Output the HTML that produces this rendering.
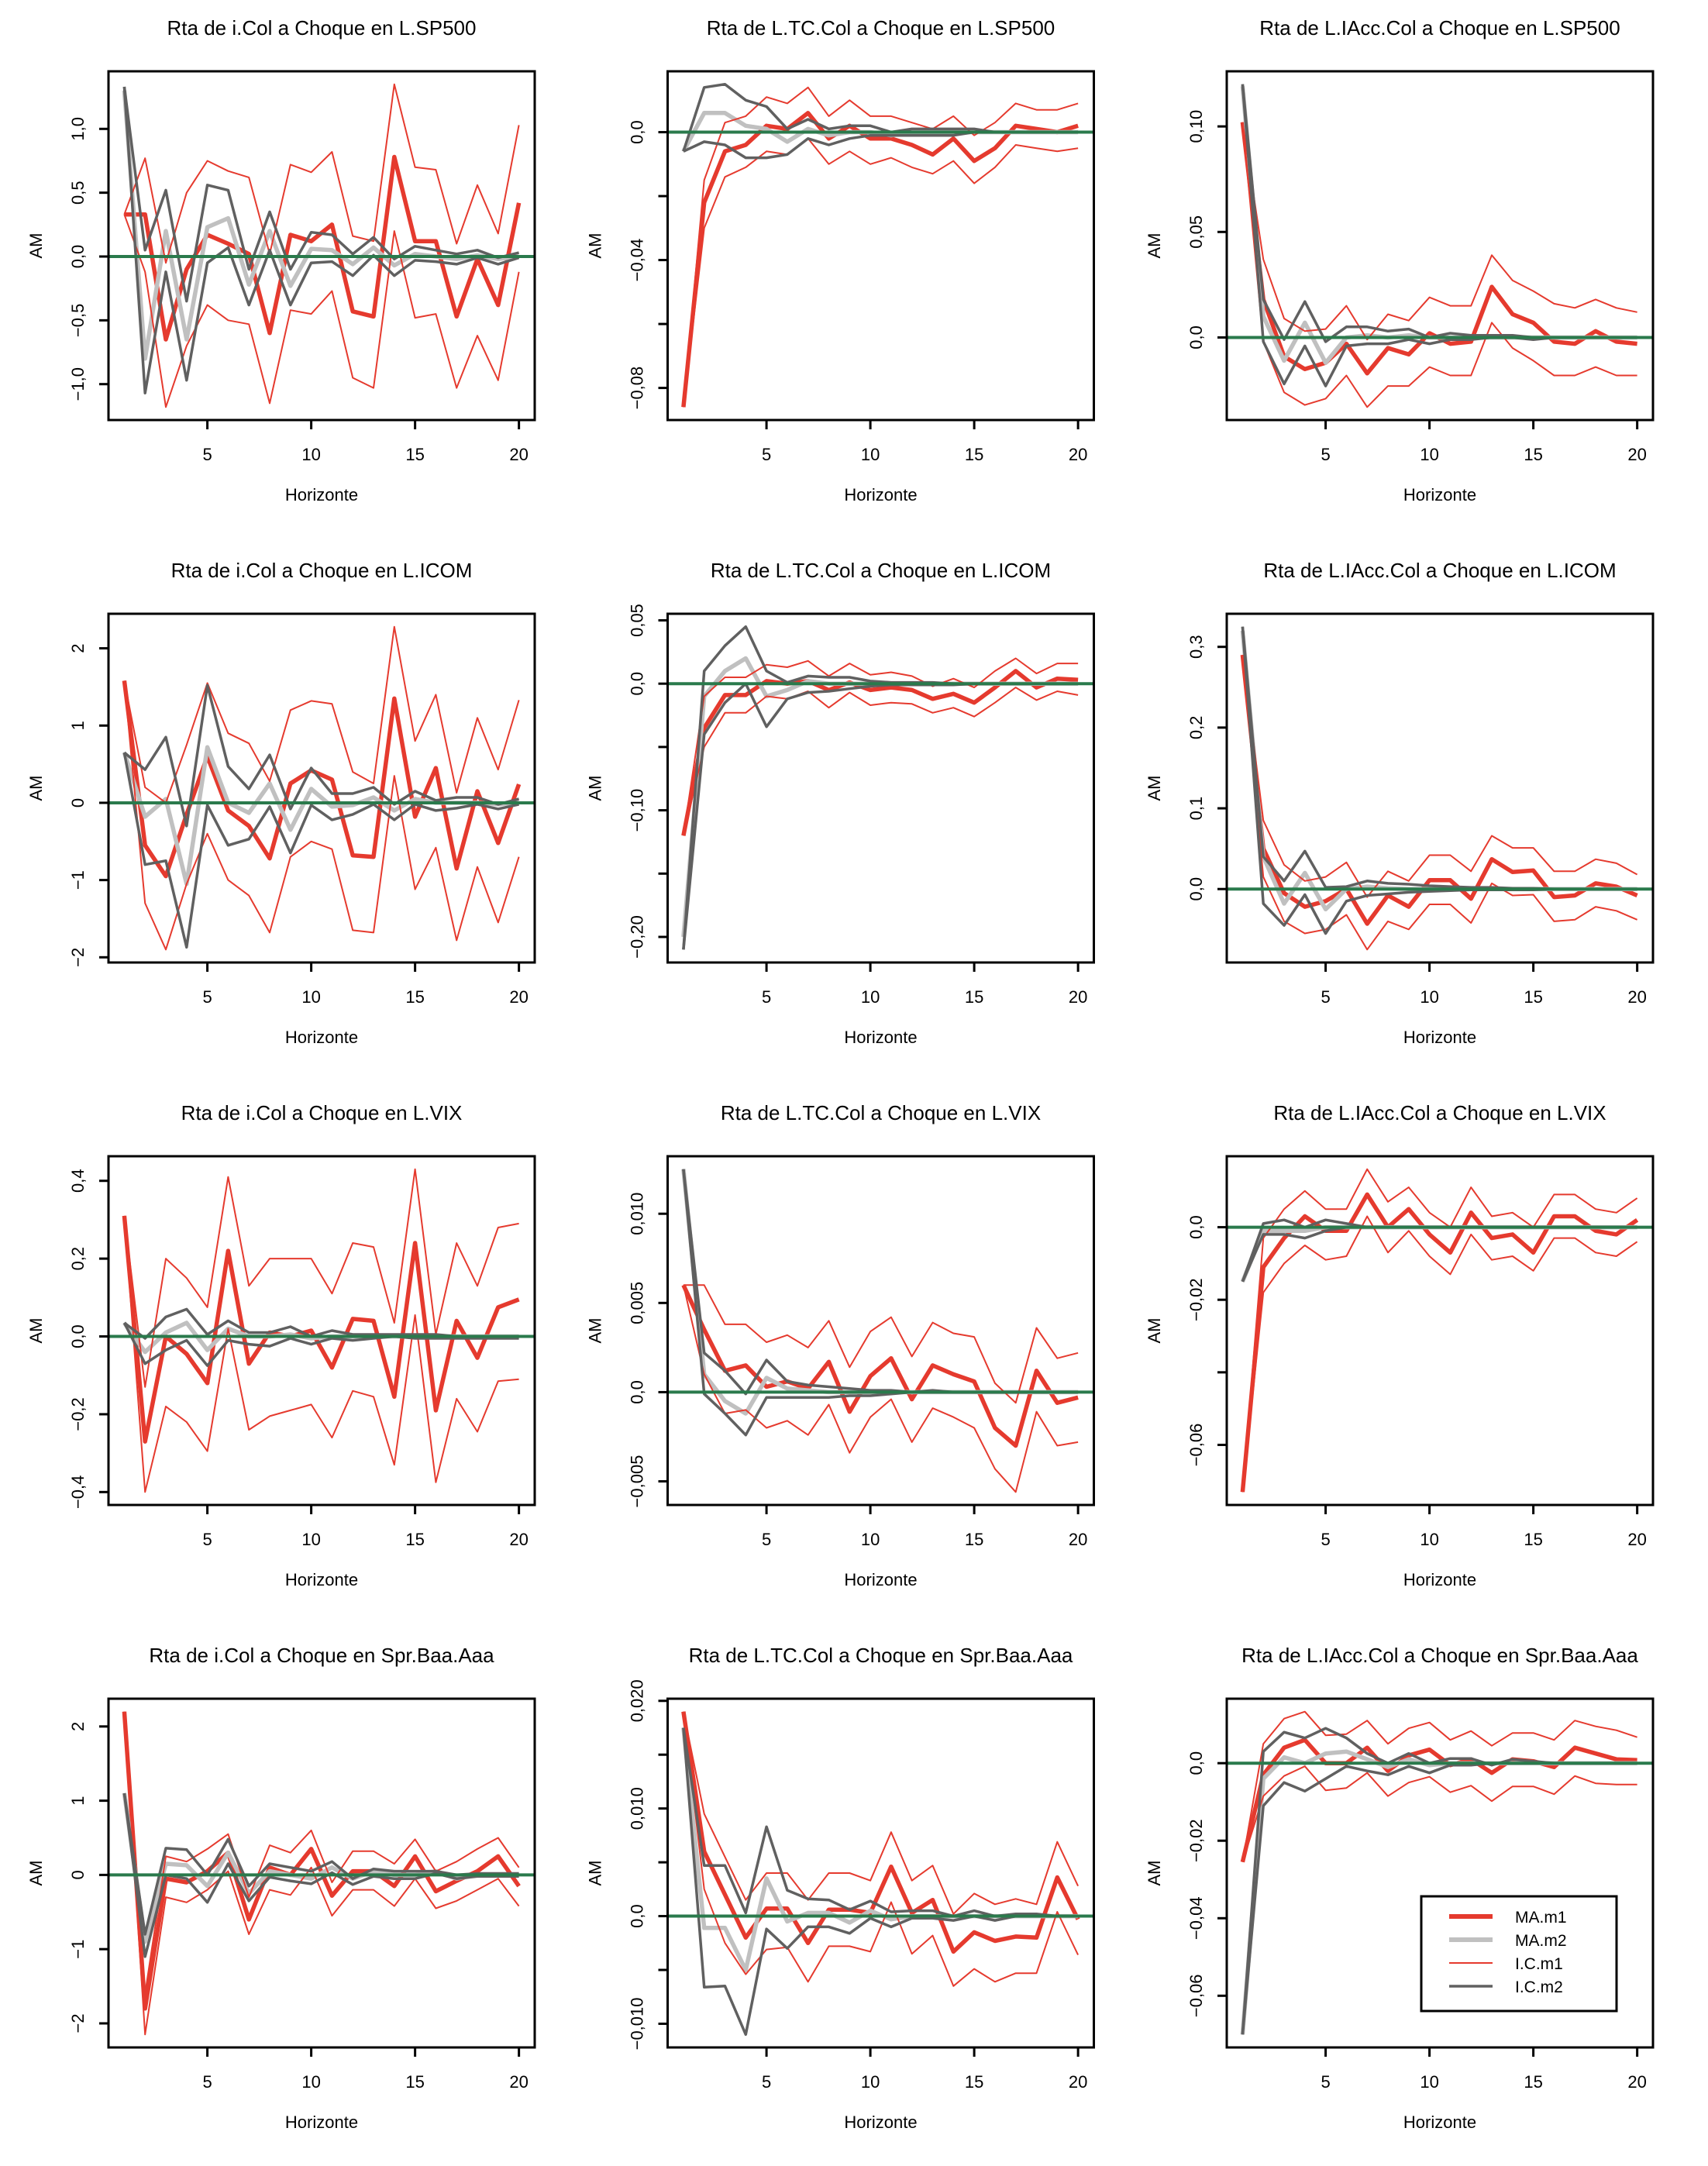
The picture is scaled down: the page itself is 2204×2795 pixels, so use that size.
<!DOCTYPE html>
<html><head><meta charset="utf-8"><style>
html,body{margin:0;padding:0;background:#fff;}
svg{display:block;}
text{font-family:"Liberation Sans",Arial,sans-serif;fill:#000;}
</style></head><body>
<svg id="fig" width="2204" height="2795" viewBox="0 0 2204 2795" xmlns="http://www.w3.org/2000/svg"></svg>
<script>
const titles=["Rta de i.Col a Choque en L.SP500","Rta de L.TC.Col a Choque en L.SP500","Rta de L.IAcc.Col a Choque en L.SP500",
"Rta de i.Col a Choque en L.ICOM","Rta de L.TC.Col a Choque en L.ICOM","Rta de L.IAcc.Col a Choque en L.ICOM",
"Rta de i.Col a Choque en L.VIX","Rta de L.TC.Col a Choque en L.VIX","Rta de L.IAcc.Col a Choque en L.VIX",
"Rta de i.Col a Choque en Spr.Baa.Aaa","Rta de L.TC.Col a Choque en Spr.Baa.Aaa","Rta de L.IAcc.Col a Choque en Spr.Baa.Aaa"];
const xTicks=[5,10,15,20];
const yTicks=[[-1,-0.5,0,0.5,1],[-0.08,-0.06,-0.04,-0.02,0],[0,0.05,0.1],
[-2,-1,0,1,2],[-0.2,-0.15,-0.1,-0.05,0,0.05],[0,0.1,0.2,0.3],
[-0.4,-0.2,0,0.2,0.4],[-0.005,0,0.005,0.01],[-0.06,-0.04,-0.02,0],
[-2,-1,0,1,2],[-0.01,-0.005,0,0.005,0.01,0.015,0.02],[-0.06,-0.04,-0.02,0]];
const yTickLabels=[["−1,0","−0,5","0,0","0,5","1,0"],["−0,08","","−0,04","","0,0"],["0,0","0,05","0,10"],
["−2","−1","0","1","2"],["−0,20","","−0,10","","0,0","0,05"],["0,0","0,1","0,2","0,3"],
["−0,4","−0,2","0,0","0,2","0,4"],["−0,005","0,0","0,005","0,010"],["−0,06","","−0,02","0,0"],
["−2","−1","0","1","2"],["−0,010","","0,0","","0,010","","0,020"],["−0,06","−0,04","−0,02","0,0"]];
const ma1=[
[0.33,0.33,-0.65,-0.1,0.17,0.1,0.02,-0.6,0.17,0.12,0.25,-0.43,-0.47,0.78,0.12,0.12,-0.47,-0.02,-0.38,0.42],
[-0.086,-0.022,-0.006,-0.004,0.002,0.001,0.006,-0.002,0.002,-0.002,-0.002,-0.004,-0.007,-0.002,-0.009,-0.005,0.002,0.001,0,0.002],
[0.102,0.018,-0.009,-0.015,-0.012,-0.003,-0.017,-0.005,-0.008,0.002,-0.003,-0.002,0.024,0.011,0.007,-0.002,-0.003,0.003,-0.002,-0.003],
[1.58,-0.55,-0.95,-0.15,0.6,-0.1,-0.3,-0.72,0.25,0.42,0.3,-0.68,-0.7,1.35,-0.18,0.45,-0.85,0.15,-0.52,0.24],
[-0.12,-0.035,-0.009,-0.009,0.002,0,0.002,-0.005,0.001,-0.005,-0.003,-0.005,-0.012,-0.008,-0.015,-0.003,0.01,-0.003,0.004,0.003],
[0.29,0.05,-0.005,-0.022,-0.015,0,-0.043,-0.008,-0.022,0.011,0.011,-0.012,0.037,0.021,0.023,-0.01,-0.008,0.007,0.003,-0.008],
[0.31,-0.27,0,-0.045,-0.12,0.22,-0.07,0.01,0,0.015,-0.08,0.045,0.04,-0.155,0.24,-0.19,0.04,-0.055,0.075,0.095],
[0.006,0.0035,0.0012,0.0015,0.0003,0.0006,0.0002,0.0017,-0.0011,0.0009,0.0019,-0.0004,0.0015,0.001,0.0006,-0.002,-0.003,0.0012,-0.0006,-0.0003],
[-0.073,-0.011,-0.003,0.003,-0.001,-0.001,0.009,0,0.005,-0.002,-0.007,0.004,-0.003,-0.002,-0.007,0.003,0.003,-0.001,-0.002,0.002],
[2.2,-1.8,-0.05,-0.1,0.05,0.3,-0.6,0.1,0,0.35,-0.28,0.05,0.05,-0.15,0.25,-0.22,-0.08,0.05,0.25,-0.15],
[0.019,0.006,0.002,-0.002,0.0007,0.0007,-0.0025,0.0006,0.0006,0.0003,0.0046,0.0003,0.0015,-0.0033,-0.0015,-0.0023,-0.0019,-0.002,0.0036,-0.0003],
[-0.0255,-0.003,0.004,0.006,0,0,0.004,-0.002,0.002,0.0035,-0.0005,0.001,-0.0025,0.001,0.0005,-0.001,0.004,0.0025,0.001,0.0008]];
const ma2=[
[1.3,-0.8,0.2,-0.65,0.23,0.3,-0.22,0.2,-0.23,0.06,0.05,-0.06,0.07,-0.07,0.02,0,-0.02,0.01,-0.02,0],
[-0.006,0.006,0.006,0.002,0.001,-0.003,0.001,-0.001,0,0,-0.001,0,0,0,0,0,0,0,0,0],
[0.119,0.01,-0.011,0.007,-0.012,0,0.001,0,0.001,0,0,0,0,0,0,0,0,0,0,0],
[0.65,-0.18,0.05,-1.05,0.72,0,-0.13,0.25,-0.35,0.18,-0.05,-0.03,0.07,-0.1,0.05,0,0,0,-0.02,0],
[-0.2,-0.01,0.01,0.02,-0.01,-0.005,0.002,0,0,0,0,0,0,0,0,0,0,0,0,0],
[0.32,0.04,-0.018,0.02,-0.025,0,0.003,0.001,0,0,0,0,0,0,0,0,0,0,0,0],
[0.035,-0.04,0.01,0.035,-0.035,0.02,0,0,0.005,-0.005,0,0,0,0,0,0,0,0,0,0],
[0.0125,0.001,-0.0005,-0.0012,0.0008,0.0002,0.0001,0,0,0,0,0,0,0,0,0,0,0,0,0],
[-0.015,-0.001,-0.001,-0.001,0,0,0,0,0,0,0,0,0,0,0,0,0,0,0,0],
[1.1,-0.9,0.15,0.13,-0.15,0.3,-0.25,0.05,0,-0.05,0.1,-0.05,0.05,0,0,0.05,-0.05,0,0,0],
[0.0175,-0.0011,-0.0011,-0.005,0.0035,-0.0005,0.0003,0.0003,-0.0006,0.0005,-0.0003,0,0,0,0,0,0,0,0,0],
[-0.07,-0.004,0.0015,0,0.0025,0.003,0.001,-0.001,0.001,-0.0005,0,0,0,0,0,0,0,0,0,0]];
const ic1Up=[
[0.33,0.77,-0.05,0.5,0.75,0.67,0.62,0.02,0.72,0.66,0.82,0.16,0.12,1.35,0.7,0.68,0.1,0.56,0.18,1.03],
[-0.086,-0.015,0.003,0.005,0.011,0.009,0.014,0.005,0.01,0.005,0.005,0.003,0.001,0.005,-0.001,0.003,0.009,0.007,0.007,0.009],
[0.102,0.037,0.009,0.003,0.004,0.015,-0.001,0.011,0.008,0.019,0.015,0.015,0.039,0.027,0.022,0.016,0.014,0.018,0.014,0.012],
[1.58,0.2,0,0.75,1.55,0.9,0.77,0.28,1.2,1.32,1.28,0.4,0.25,2.28,0.8,1.4,0.13,1.1,0.43,1.33],
[-0.12,-0.01,0.005,0.005,0.015,0.013,0.018,0.006,0.016,0.007,0.009,0.006,-0.002,0.004,-0.003,0.01,0.02,0.008,0.016,0.016],
[0.29,0.085,0.03,0.01,0.015,0.033,-0.01,0.022,0.01,0.042,0.042,0.022,0.066,0.051,0.051,0.022,0.022,0.037,0.032,0.018],
[0.31,-0.13,0.2,0.15,0.075,0.41,0.13,0.2,0.2,0.2,0.11,0.24,0.23,0.035,0.43,0.005,0.24,0.13,0.28,0.29],
[0.006,0.006,0.0038,0.0038,0.0028,0.0032,0.0025,0.004,0.0014,0.0034,0.0042,0.002,0.0039,0.0033,0.0031,0.0005,-0.0006,0.0036,0.0019,0.0022],
[-0.073,-0.003,0.005,0.01,0.005,0.005,0.016,0.007,0.011,0.004,0,0.011,0.003,0.004,0,0.009,0.009,0.005,0.004,0.008],
[2.2,-1.6,0.25,0.18,0.35,0.55,-0.3,0.4,0.3,0.6,-0.1,0.32,0.32,0.15,0.48,0.05,0.18,0.35,0.5,0.1],
[0.019,0.0095,0.0055,0.0015,0.004,0.004,0.0015,0.004,0.004,0.0033,0.0078,0.0033,0.0047,0.0002,0.0021,0.0011,0.0016,0.0011,0.0069,0.0028],
[-0.0255,0.005,0.0115,0.0133,0.0072,0.0075,0.011,0.005,0.009,0.0105,0.006,0.0083,0.0045,0.0078,0.0078,0.006,0.011,0.0095,0.0085,0.0067]];
const ic1Lo=[
[0.33,-0.12,-1.18,-0.7,-0.38,-0.5,-0.53,-1.15,-0.42,-0.45,-0.27,-0.95,-1.03,0.2,-0.48,-0.45,-1.03,-0.62,-0.97,-0.12],
[-0.086,-0.03,-0.014,-0.011,-0.006,-0.007,-0.002,-0.01,-0.006,-0.01,-0.008,-0.011,-0.013,-0.009,-0.016,-0.011,-0.004,-0.005,-0.006,-0.005],
[0.102,-0.002,-0.026,-0.032,-0.029,-0.018,-0.033,-0.023,-0.023,-0.014,-0.018,-0.018,0.007,-0.005,-0.011,-0.018,-0.018,-0.014,-0.018,-0.018],
[1.58,-1.3,-1.9,-1.05,-0.4,-1.0,-1.2,-1.68,-0.7,-0.5,-0.6,-1.65,-1.68,0.35,-1.12,-0.58,-1.78,-0.83,-1.55,-0.7],
[-0.12,-0.05,-0.023,-0.023,-0.01,-0.012,-0.006,-0.019,-0.007,-0.017,-0.015,-0.016,-0.023,-0.019,-0.026,-0.015,-0.003,-0.013,-0.006,-0.009],
[0.29,0.015,-0.04,-0.055,-0.05,-0.032,-0.075,-0.04,-0.05,-0.019,-0.019,-0.042,0.007,-0.008,-0.007,-0.04,-0.038,-0.022,-0.027,-0.038],
[0.31,-0.4,-0.18,-0.22,-0.295,0.02,-0.24,-0.205,-0.19,-0.175,-0.26,-0.14,-0.155,-0.33,0.055,-0.375,-0.16,-0.245,-0.115,-0.11],
[0.006,0.001,-0.0012,-0.001,-0.002,-0.0016,-0.0024,-0.0007,-0.0034,-0.0014,-0.0004,-0.0028,-0.0009,-0.0014,-0.002,-0.0043,-0.0056,-0.0011,-0.003,-0.0028],
[-0.073,-0.018,-0.01,-0.005,-0.009,-0.008,0.003,-0.007,-0.001,-0.008,-0.013,-0.002,-0.009,-0.008,-0.012,-0.003,-0.003,-0.007,-0.008,-0.004],
[2.2,-2.15,-0.3,-0.37,-0.2,0.05,-0.8,-0.2,-0.27,0.1,-0.55,-0.2,-0.2,-0.42,-0.05,-0.45,-0.35,-0.2,-0.05,-0.42],
[0.019,0.0025,-0.0025,-0.0054,-0.0031,-0.0029,-0.0061,-0.0028,-0.0028,-0.0033,0.0013,-0.0035,-0.0018,-0.0065,-0.0049,-0.0061,-0.0053,-0.0053,0.0004,-0.0036],
[-0.0255,-0.0085,-0.0033,-0.0008,-0.007,-0.0064,-0.0025,-0.0085,-0.005,-0.0035,-0.0075,-0.0058,-0.0098,-0.006,-0.006,-0.008,-0.0033,-0.0052,-0.0055,-0.0055]];
const ic2Up=[
[1.33,0.05,0.52,-0.35,0.56,0.52,-0.1,0.35,-0.1,0.19,0.17,0.02,0.15,-0.02,0.08,0.05,0.02,0.05,-0.01,0.03],
[-0.006,0.014,0.015,0.01,0.008,0.001,0.004,0.001,0.002,0.002,0,0.001,0.001,0.001,0.001,0,0,0,0,0],
[0.12,0.018,-0.001,0.017,-0.002,0.005,0.005,0.003,0.004,0,0.002,0.001,0.001,0.001,0,0,0,0,0,0],
[0.65,0.43,0.85,-0.3,1.52,0.47,0.18,0.62,-0.08,0.45,0.12,0.12,0.2,-0.02,0.15,0.03,0.07,0.07,-0.02,0.05],
[-0.21,0.01,0.03,0.045,0.01,0.001,0.006,0.005,0.005,0.002,0.001,0.001,0.001,0,0,0,0,0,0,0],
[0.325,0.04,0.01,0.047,0.002,0.003,0.01,0.007,0.006,0.004,0.003,0.002,0.002,0.001,0.001,0,0,0,0,0],
[0.035,-0.005,0.05,0.07,0.005,0.04,0.01,0.01,0.025,0,0.015,0.005,0.005,0.005,0.005,0.005,0,0,0,0],
[0.0125,0.0022,0.0012,-0.0001,0.0018,0.0006,0.0004,0.0003,0.0002,0.0001,0.0001,0,0.0001,0,0,0,0,0,0,0],
[-0.015,0.001,0.002,0,0.002,0.001,0,0,0,0,0,0,0,0,0,0,0,0,0,0],
[1.1,-0.8,0.36,0.34,0,0.48,-0.15,0.15,0.1,0.05,0.18,-0.05,0.08,0.05,0.05,0.05,0,0.02,0.02,0.02],
[0.0175,0.0047,0.0047,0.0003,0.0083,0.0024,0.0016,0.0015,0.0006,0.0014,0.0004,0.0005,0.0005,0,0.0005,0,0.0002,0.0002,0,0],
[-0.07,0.003,0.008,0.0065,0.009,0.0065,0.0025,0,0.0025,0,0.0012,0.0012,-0.0005,0.001,0.0005,0,0,0,0,0]];
const ic2Lo=[
[1.33,-1.07,-0.12,-0.97,-0.05,0.07,-0.38,0.05,-0.38,-0.05,-0.04,-0.15,0.01,-0.15,-0.03,-0.04,-0.06,-0.01,-0.06,-0.01],
[-0.006,-0.003,-0.004,-0.008,-0.008,-0.007,-0.002,-0.004,-0.002,-0.001,-0.001,-0.001,-0.001,-0.001,0,0,0,0,0,0],
[0.12,-0.002,-0.022,-0.004,-0.023,-0.004,-0.003,-0.003,-0.001,-0.003,-0.001,-0.001,0,0,-0.001,0,0,0,0,0],
[0.65,-0.8,-0.75,-1.87,-0.03,-0.55,-0.47,-0.05,-0.65,-0.03,-0.22,-0.15,-0.02,-0.22,-0.02,-0.1,-0.07,-0.02,-0.08,-0.02],
[-0.21,-0.04,-0.015,0,-0.034,-0.012,-0.007,-0.006,-0.004,-0.002,-0.001,-0.001,-0.001,-0.001,0,0,0,0,0,0],
[0.325,-0.018,-0.045,-0.007,-0.055,-0.015,-0.008,-0.006,-0.004,-0.003,-0.002,-0.001,-0.001,-0.001,-0.001,0,0,0,0,0],
[0.035,-0.07,-0.035,-0.01,-0.075,-0.01,-0.02,-0.025,-0.005,-0.02,-0.005,-0.01,-0.005,0,-0.005,-0.005,-0.005,-0.005,-0.005,-0.005],
[0.0125,-0.0001,-0.0012,-0.0024,-0.0003,-0.0003,-0.0003,-0.0003,-0.0002,-0.0002,-0.0001,0,0,0,0,0,0,0,0,0],
[-0.015,-0.002,-0.002,-0.003,-0.001,0,0,0,0,0,0,0,0,0,0,0,0,0,0,0],
[1.1,-1.1,0,-0.05,-0.37,0.15,-0.35,-0.03,-0.08,-0.12,0.03,-0.13,-0.02,-0.05,-0.05,0.02,-0.05,-0.02,-0.02,-0.02],
[0.0175,-0.0066,-0.0065,-0.011,-0.0012,-0.003,-0.001,-0.001,-0.0016,-0.0002,-0.001,-0.0002,-0.0002,-0.0004,0,-0.0004,0,0,0,0],
[-0.07,-0.011,-0.005,-0.0072,-0.004,-0.0008,-0.002,-0.003,-0.0008,-0.0025,-0.0005,-0.0005,0,0,0,0,0,0,0,0]];
const legendLabels=["MA.m1","MA.m2","I.C.m1","I.C.m2"];

const NS="http://www.w3.org/2000/svg";
const svg=document.getElementById('fig');
const RED="#e53a2e",LGRAY="#c0c0c0",DGRAY="#606060",GREEN="#2a7a4c";
function mk(tag,attrs,parent){const e=document.createElementNS(NS,tag);for(const k in attrs)e.setAttribute(k,attrs[k]);(parent||svg).appendChild(e);return e;}

for(let p=0;p<12;p++){
  const c=p%3,r=Math.floor(p/3);
  const L=140+721.5*c,W=550,T=92+700*r,H=450;
  const g=mk('g',{});
  
  
  const all=[].concat(ma1[p],ma2[p],ic1Up[p],ic1Lo[p],ic2Up[p],ic2Lo[p]);
  const mn=Math.min(...all),mx=Math.max(...all),pad=(mx-mn)*0.04;
  const y0=mn-pad,y1=mx+pad;
  const n=ma1[p].length,xpad=(n-1)*0.04,xa=1-xpad,xb=n+xpad;
  const sx=v=>L+(v-xa)/(xb-xa)*W;
  const sy=v=>T+H-(v-y0)/(y1-y0)*H;
  const cx=L+W/2;
  const t=mk('text',{x:cx,y:T-47,'font-size':26,'text-anchor':'middle'},g);t.textContent=titles[p];
  
  
  function line(arr,col,w,name){
    const pts=arr.map((v,i)=>sx(i+1).toFixed(1)+','+sy(v).toFixed(1)).join(' ');
    const pl=mk('polyline',{points:pts,fill:'none',stroke:col,'stroke-width':w,'stroke-linejoin':'round'},g);
    
    
  }
  line(ma1[p],RED,5.5,'ma-m1-line');
  line(ma2[p],LGRAY,5.5,'ma-m2-line');
  line(ic1Up[p],RED,2,'ic-m1-upper');
  line(ic1Lo[p],RED,2,'ic-m1-lower');
  line(ic2Up[p],DGRAY,3.5,'ic-m2-upper');
  line(ic2Lo[p],DGRAY,3.5,'ic-m2-lower');
  const z=mk('line',{x1:L,x2:L+W,y1:sy(0),y2:sy(0),stroke:GREEN,'stroke-width':4},g);
  
  
  const box=mk('rect',{x:L,y:T,width:W,height:H,fill:'none',stroke:'#000','stroke-width':3},g);
  
  
  xTicks.forEach(v=>{
    mk('line',{x1:sx(v),x2:sx(v),y1:T+H,y2:T+H+12,stroke:'#000','stroke-width':3},g);
    const tl=mk('text',{x:sx(v),y:T+H+52,'font-size':22,'text-anchor':'middle'},g);tl.textContent=v;
    
    
  });
  yTicks[p].forEach((v,i)=>{
    const yy=sy(v);
    mk('line',{x1:L-12,x2:L,y1:yy,y2:yy,stroke:'#000','stroke-width':3},g);
    const lab=yTickLabels[p][i];
    if(lab){const tl=mk('text',{x:0,y:0,'font-size':22,'text-anchor':'middle',transform:`translate(${L-32},${yy}) rotate(-90)`},g);tl.textContent=lab;
      
      }
  });
  const xl=mk('text',{x:cx,y:T+H+104,'font-size':22,'text-anchor':'middle'},g);xl.textContent='Horizonte';
  
  
  const yl=mk('text',{x:0,y:0,'font-size':22,'text-anchor':'middle',transform:`translate(${L-86},${T+H/2}) rotate(-90)`},g);yl.textContent='AM';
  
  
}
// legend in last panel
const lg=mk('g',{});


mk('rect',{x:1834,y:2447,width:252,height:148,fill:'#fff',stroke:'#000','stroke-width':3},lg);
const lcols=[RED,LGRAY,RED,DGRAY],lw=[6,6,2,3.5];
legendLabels.forEach((s,i)=>{
  const yy=2473+i*30;
  mk('line',{x1:1870,x2:1926,y1:yy,y2:yy,stroke:lcols[i],'stroke-width':lw[i]},lg);
  const tx=mk('text',{x:1955,y:yy+8,'font-size':21},lg);tx.textContent=s;
  
  
});
</script>
</body></html>
